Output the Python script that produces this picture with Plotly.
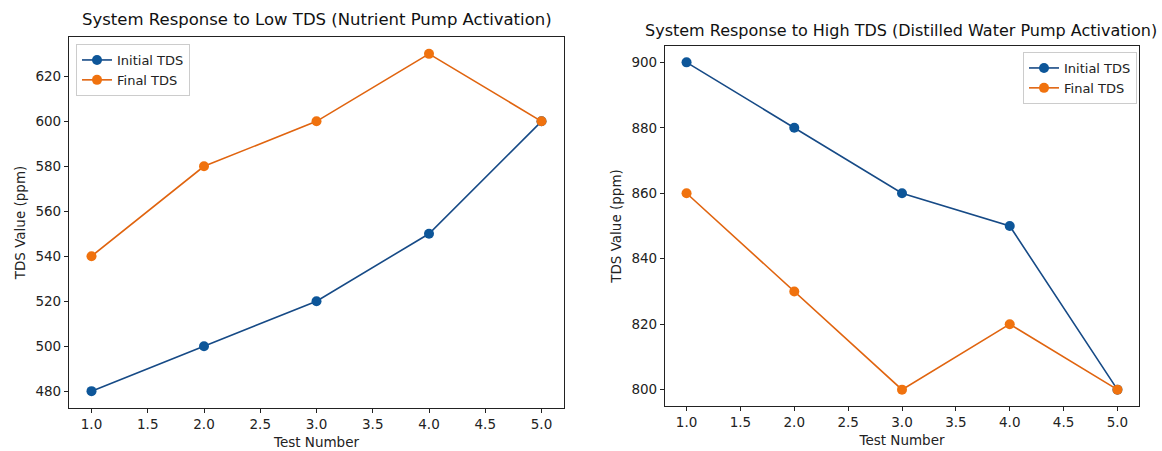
import plotly.graph_objects as go

tests = [1, 2, 3, 4, 5]
low_initial = [480, 500, 520, 550, 600]
low_final = [540, 580, 600, 630, 600]
high_initial = [900, 880, 860, 850, 800]
high_final = [860, 830, 800, 820, 800]

x_ticks = [1.0, 1.5, 2.0, 2.5, 3.0, 3.5, 4.0, 4.5, 5.0]
low_yticks = [480, 500, 520, 540, 560, 580, 600, 620]
high_yticks = [800, 820, 840, 860, 880, 900]

BLUE = "#164a86"
BLUE_M = "#0d5699"
ORANGE = "#e0640f"
ORANGE_M = "#f0720e"
FONT = "DejaVu Sans"
W, H = 1162, 451

def px(v):
    return v / W

def py(v):
    return 1 - v / H

fig = go.Figure()

def add(x, y, name, color, mcolor, xa, ya, legend, show):
    fig.add_trace(go.Scatter(
        x=x, y=y, name=name, mode="lines+markers",
        line=dict(color=color, width=1.6),
        marker=dict(color=mcolor, size=10),
        xaxis=xa, yaxis=ya, legend=legend, showlegend=show))

add(tests, low_initial, "Initial TDS", BLUE, BLUE_M, "x", "y", "legend", True)
add(tests, low_final, "Final TDS", ORANGE, ORANGE_M, "x", "y", "legend", True)
add(tests, high_initial, "Initial TDS", BLUE, BLUE_M, "x2", "y2", "legend2", True)
add(tests, high_final, "Final TDS", ORANGE, ORANGE_M, "x2", "y2", "legend2", True)

axis_common = dict(
    showline=True, linecolor="#222", linewidth=1.2, mirror=True,
    ticks="outside", ticklen=4, tickcolor="#222", showgrid=False,
    zeroline=False, tickfont=dict(family=FONT, size=13.5, color="#222"),
)

legend_common = dict(
    bordercolor="#cccccc", borderwidth=1, bgcolor="rgba(255,255,255,0.8)",
    font=dict(family=FONT, size=13, color="#222"), tracegroupgap=0,
    itemwidth=30,
)

fig.update_layout(
    width=W, height=H,
    margin=dict(l=0, r=0, t=0, b=0),
    paper_bgcolor="white", plot_bgcolor="white",
    font=dict(family=FONT, color="#222"),
    xaxis=dict(domain=[px(69), px(564)], range=[0.8, 5.2], anchor="y",
               tickvals=x_ticks, ticktext=[f"{v:.1f}" for v in x_ticks],
               title=dict(text="Test Number", font=dict(size=13.5), standoff=6),
               **axis_common),
    yaxis=dict(domain=[py(408), py(37)], range=[472.5, 637.5], anchor="x",
               tickvals=low_yticks,
               title=dict(text="TDS Value (ppm)", font=dict(size=13.5), standoff=6),
               **axis_common),
    xaxis2=dict(domain=[px(665), px(1139)], range=[0.8, 5.2], anchor="y2",
                tickvals=x_ticks, ticktext=[f"{v:.1f}" for v in x_ticks],
                title=dict(text="Test Number", font=dict(size=13.5), standoff=6),
                **axis_common),
    yaxis2=dict(domain=[py(406), py(46)], range=[795, 905], anchor="x2",
                tickvals=high_yticks,
                title=dict(text="TDS Value (ppm)", font=dict(size=13.5), standoff=6),
                **axis_common),
    legend=dict(x=px(76), y=py(44), xanchor="left", yanchor="top", **legend_common),
    legend2=dict(x=px(1137), y=py(52), xanchor="right", yanchor="top", **legend_common),
    annotations=[
        dict(text="System Response to Low TDS (Nutrient Pump Activation)",
             x=px(317), y=py(20), xref="paper", yref="paper", showarrow=False,
             xanchor="center", yanchor="middle",
             font=dict(family=FONT, size=16.5, color="#111")),
        dict(text="System Response to High TDS (Distilled Water Pump Activation)",
             x=px(901), y=py(31), xref="paper", yref="paper", showarrow=False,
             xanchor="center", yanchor="middle",
             font=dict(family=FONT, size=16, color="#111")),
    ],
)

fig.write_html("out.html", config={"displayModeBar": False},
               post_script="document.body.style.margin='0';")
